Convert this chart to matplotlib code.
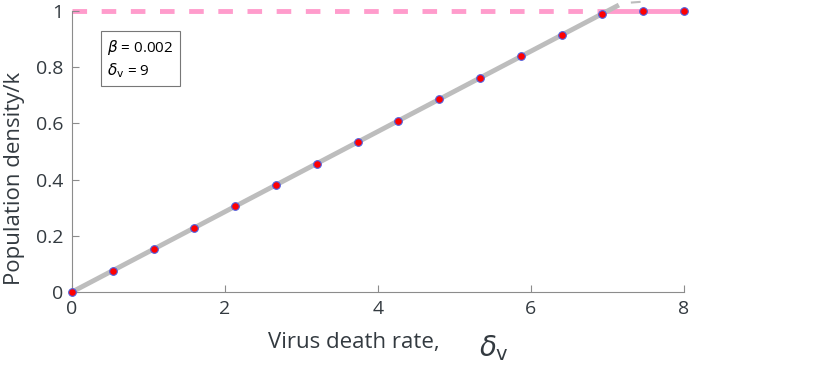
import matplotlib
matplotlib.use("Agg")
import matplotlib.pyplot as plt

# data
x_pts = [0, 0.533, 1.067, 1.6, 2.133, 2.667, 3.2, 3.733, 4.267, 4.8, 5.333, 5.867, 6.4, 6.933, 7.467, 8.0]
y_pts = [0, 0.076, 0.152, 0.229, 0.305, 0.381, 0.457, 0.533, 0.610, 0.686, 0.762, 0.838, 0.914, 0.990, 1.0, 1.0]
gray_x = [0, 7.15]
gray_y = [0, 1.021]
gray_tail_x = [7.32, 7.42]
gray_tail_y = [1.03, 1.032]
pink_dash_x = [0, 7.0]
pink_solid_x = [7.0, 8.0]
pink_y = 1.0
xticks = [0, 2, 4, 6, 8]
yticks = [0, 0.2, 0.4, 0.6, 0.8, 1]
ytick_labels = ["0", "0.2", "0.4", "0.6", "0.8", "1"]

plt.rcParams['font.family'] = ['Open Sans', 'DejaVu Sans']
txt = '#333a40'

fig = plt.figure(figsize=(8.3, 3.77), dpi=100)
ax = fig.add_axes([0.0867, 0.2255, 0.7373, 0.7455])

ax.plot(pink_dash_x, [pink_y, pink_y], color='#ff9ccc', lw=3.5, dashes=(3, 3), zorder=1, clip_on=False)
ax.plot(pink_solid_x, [pink_y, pink_y], color='#ff9ccc', lw=3.5, zorder=1, clip_on=False)
ax.plot(gray_x, gray_y, color='#bdbdbd', lw=3.5, zorder=2, clip_on=False, solid_capstyle='butt')
ax.plot(gray_tail_x, gray_tail_y, color='#bdbdbd', lw=1.5, zorder=2, clip_on=False)
ax.plot(x_pts, y_pts, 'o', ms=5.5, mfc='red', mec='#5060e0', mew=0.8, zorder=3, clip_on=False)

ax.set_xlim(0, 8)
ax.set_ylim(0, 1)
ax.set_xticks(xticks)
ax.set_yticks(yticks)
ax.set_yticklabels(ytick_labels)
for s in ['top', 'right']:
    ax.spines[s].set_visible(False)
for s in ['left', 'bottom']:
    ax.spines[s].set_color('#8c8c8c')
    ax.spines[s].set_linewidth(0.8)
ax.tick_params(direction='in', length=5, color='#8c8c8c', labelsize=14, labelcolor=txt, pad=6)

ax.set_ylabel('Population density/k', fontsize=16, color=txt)
ax.yaxis.set_label_coords(-0.077, 0.405)
ax.text(0.601, -0.178, 'Virus death rate,', transform=ax.transAxes, ha='right', va='center',
        fontsize=16, color=txt)
ax.text(0.69, -0.2, r'$\delta_{\mathrm{v}}$', transform=ax.transAxes, ha='center', va='center',
        fontsize=20, color=txt)

ax.text(0.058, 0.905, '$\\beta$ = 0.002\n$\\delta_{\\mathrm{v}}$ = 9', transform=ax.transAxes,
        ha='left', va='top', fontsize=11, color='black', linespacing=1.3,
        bbox=dict(boxstyle='square,pad=0.4', fc='white', ec='#777777', lw=0.8))

fig.savefig('out.png', dpi=100)
